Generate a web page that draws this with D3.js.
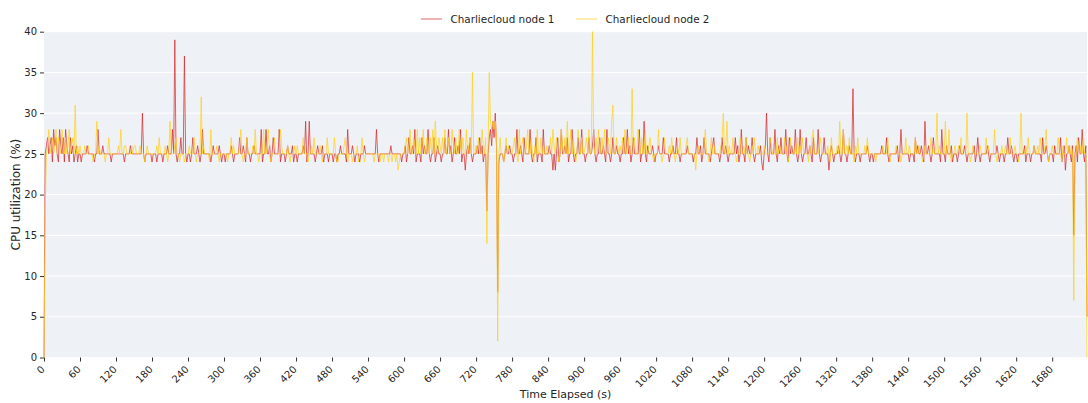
<!DOCTYPE html>
<html>
<head>
<meta charset="utf-8">
<script src="https://cdn.jsdelivr.net/npm/d3@7"></script>
<style>
  html, body { margin: 0; padding: 0; background: #ffffff; }
  svg { display: block; font-family: "DejaVu Sans", sans-serif; }
</style>
</head>
<body>
<svg id="chart" width="1088" height="403"></svg>
<script>
// ---- data (sampled every STEP seconds) ----
const STEP = 2; // seconds between samples
const seriesNames = ["Charliecloud node 1", "Charliecloud node 2"];
const xTickValues = [0,60,120,180,240,300,360,420,480,540,600,660,720,780,840,900,960,1020,1080,1140,1200,1260,1320,1380,1440,1500,1560,1620,1680];
const yTickValues = [0,5,10,15,20,25,30,35,40];

const node1 = [
  0,25,26,27,25,26,27,24,28,26,27,25,24,28,26,25,27,24,28,26,25,24,27,25,26,24,25,26,24,25,
  25,24,25,25,25,25,26,25,25,25,25,25,24,25,25,28,25,25,25,26,25,25,25,25,25,25,24,25,25,25,
  25,25,25,25,25,25,25,24,25,25,25,25,26,25,25,25,25,25,25,25,25,25,30,25,24,25,25,25,25,25,
  24,25,25,25,24,25,25,25,25,24,25,25,25,26,25,25,25,28,25,39,25,24,25,25,27,25,25,37,25,24,
  25,25,24,25,27,25,25,25,26,25,24,25,28,25,25,25,25,25,25,24,25,26,25,25,25,25,26,25,24,25,
  25,24,25,25,25,25,26,25,24,25,25,25,25,27,25,25,26,25,24,27,25,25,24,25,25,26,25,25,25,25,
  25,28,24,25,25,28,25,25,26,24,25,27,25,25,25,25,28,24,25,25,25,24,25,26,25,25,25,26,24,25,
  25,24,25,25,25,25,26,25,29,24,25,29,25,25,25,25,24,25,26,25,25,25,26,24,25,25,25,24,25,25,
  25,24,25,25,24,25,25,26,25,25,25,25,24,28,25,25,25,26,25,24,25,25,25,24,25,25,25,26,25,25,
  25,25,25,25,25,25,25,28,25,24,25,25,25,25,25,25,25,25,25,26,25,25,25,25,25,25,25,25,24,25,
  25,26,24,25,27,25,25,26,25,28,24,25,25,25,24,27,25,26,25,25,28,25,24,25,25,27,24,25,26,25,
  25,24,25,25,27,25,25,28,25,26,24,25,27,25,25,26,25,28,24,25,25,23,25,26,25,27,25,24,25,25,
  25,26,25,27,25,26,24,25,25,18,25,27,28,26,29,27,30,26,8,24,25,25,25,24,25,26,25,25,26,25,
  25,24,25,25,28,25,25,26,25,24,27,25,25,25,25,28,25,24,25,25,27,24,25,25,25,24,28,25,25,25,
  25,26,25,25,23,25,23,25,27,24,25,28,25,25,26,25,27,24,25,25,28,25,24,25,25,27,25,25,28,25,
  25,24,25,25,27,25,25,26,28,25,24,25,25,27,25,25,26,25,24,28,25,25,24,25,27,25,25,26,25,25,
  24,25,25,27,25,25,28,25,26,24,25,27,25,25,25,25,28,24,25,25,29,25,24,26,25,25,25,26,25,24,
  25,25,26,25,25,25,27,25,25,25,25,24,25,25,26,25,25,27,25,25,24,25,25,25,25,25,26,25,25,25,
  25,24,25,25,27,25,25,26,24,25,27,25,25,25,25,24,25,26,27,25,25,25,25,24,25,27,25,25,26,25,
  24,25,25,25,25,25,27,25,26,24,25,28,25,25,24,27,25,26,25,25,27,25,24,25,25,25,25,26,24,23,
  25,26,30,25,24,27,25,25,25,28,25,24,26,25,27,25,25,25,28,25,24,27,25,26,25,25,28,25,24,25,
  28,25,24,25,25,27,25,25,26,25,24,27,25,25,25,28,25,24,25,25,27,25,25,25,23,25,26,25,24,25,
  25,25,26,25,24,25,28,25,25,24,25,26,25,25,33,25,24,25,25,25,24,25,25,25,25,25,26,25,24,25,
  25,24,25,25,25,25,25,25,26,25,25,25,27,25,24,25,25,25,25,25,25,26,24,25,28,25,25,25,25,25,
  25,24,25,25,25,24,27,25,26,25,25,26,25,24,29,25,25,26,25,24,25,27,25,25,25,25,25,24,28,25,
  25,24,26,25,25,25,26,24,25,25,25,24,25,26,25,25,25,26,25,24,25,25,25,25,25,26,24,25,27,25,
  24,25,25,25,25,25,26,25,24,25,25,25,25,25,26,25,24,25,25,25,24,25,25,27,25,25,26,25,24,25,
  25,24,25,25,25,25,25,26,24,25,25,25,24,25,25,26,25,25,25,25,25,24,27,25,25,26,25,24,25,25,
  25,24,26,25,25,25,25,27,24,25,26,23,25,25,26,25,24,26,15,25,26,24,27,25,25,28,25,24,26,5
];

const node2 = [
  0,18,25,26,28,25,26,27,25,26,28,25,27,26,25,28,26,25,27,25,26,28,25,26,27,25,31,25,26,25,
  26,25,25,25,26,25,25,26,25,25,25,24,25,25,29,25,26,25,25,25,25,24,25,25,27,25,25,25,25,25,
  25,25,26,25,28,25,25,26,26,25,25,25,25,26,25,26,26,25,25,25,26,25,25,25,24,25,26,25,25,25,
  25,25,25,25,26,25,27,25,25,25,25,26,25,24,25,29,25,25,25,26,27,25,25,24,25,25,25,24,25,25,
  25,26,25,25,25,27,25,24,25,25,25,32,25,26,25,25,25,25,24,28,25,25,25,25,26,25,24,25,25,25,
  25,25,25,24,25,25,27,25,26,25,25,25,25,26,28,25,24,25,25,27,25,25,25,25,26,25,28,25,25,24,
  25,25,25,28,25,25,26,28,25,24,25,25,27,25,25,25,25,28,26,25,25,25,25,26,25,24,25,25,25,26,
  25,26,25,25,25,25,27,25,25,25,24,25,25,26,25,27,25,25,25,25,26,25,24,25,25,25,27,25,25,25,
  25,25,27,25,24,24,25,25,25,25,26,27,25,24,25,25,25,24,25,25,25,26,24,25,25,27,25,24,25,25,
  25,25,25,25,25,24,25,25,25,25,24,25,25,24,25,25,25,24,25,25,24,25,25,24,25,23,24,25,25,25,
  25,26,27,25,26,28,25,25,27,26,25,28,25,27,25,26,28,25,25,27,26,25,27,25,28,25,29,26,25,27,
  26,25,27,25,28,25,26,27,25,25,28,26,25,27,25,25,28,26,25,27,25,25,28,25,26,27,25,35,25,25,
  26,25,27,25,25,28,26,25,27,14,26,35,29,28,29,28,29,27,2,25,27,25,25,24,25,27,25,26,25,25,
  25,26,27,25,25,24,28,25,26,27,25,25,26,28,25,25,27,25,24,26,25,28,25,25,27,25,26,25,25,26,
  25,25,27,25,28,26,25,27,25,24,25,28,26,25,27,25,29,25,26,28,25,27,25,24,25,28,26,25,27,25,
  25,26,27,25,28,25,25,40,26,25,27,25,28,25,26,27,25,28,25,25,27,26,25,29,31,25,25,27,26,25,
  26,25,27,25,28,25,26,27,25,25,33,25,27,25,25,28,26,25,27,25,25,28,25,25,26,27,25,25,24,25,
  25,25,28,25,25,24,25,27,25,25,25,26,25,27,25,25,24,25,26,25,27,25,25,25,25,26,27,25,25,25,
  25,25,25,23,25,26,25,25,25,25,26,28,25,25,24,25,27,25,25,26,25,25,25,25,26,27,30,25,25,29,
  25,26,25,25,27,25,25,24,25,25,27,25,25,26,25,27,25,25,24,25,26,25,27,25,25,26,25,25,25,25,
  26,25,25,25,25,27,26,25,25,25,25,27,25,26,25,25,25,27,25,26,24,25,27,25,25,25,26,25,27,25,
  26,25,27,25,25,25,25,24,26,25,27,28,25,25,25,25,26,27,25,25,25,25,25,26,25,24,27,25,25,25,
  25,26,25,29,25,25,28,25,25,26,25,27,25,25,25,24,26,25,27,25,25,25,25,25,26,25,27,25,25,25,
  25,25,25,24,25,25,25,25,25,26,25,25,25,27,25,24,25,25,25,25,26,25,25,25,24,25,25,25,27,25,
  25,26,25,25,25,25,27,25,25,26,25,25,24,25,26,25,25,25,25,27,25,26,25,25,30,25,26,25,25,25,
  25,29,25,25,28,25,24,25,25,26,25,25,26,25,27,25,25,25,25,30,25,25,24,25,26,25,25,25,25,25,
  26,25,25,25,25,27,25,26,25,25,25,25,28,25,24,25,25,25,26,25,25,26,25,25,25,27,25,25,25,26,
  25,25,24,25,30,25,25,25,26,25,27,25,25,25,25,26,25,25,26,25,27,25,25,25,26,28,25,24,25,25,
  26,25,25,25,25,27,25,25,24,26,25,25,27,25,26,25,26,25,7,25,25,27,26,25,26,25,27,25,25,0
];

const seriesColors = ["#d62728", "#ffd11a"];

// ---- layout ----
const svg = d3.select("#chart");
const plot = { left: 44, right: 1087, top: 31.7, bottom: 357.5 };

const tMax = (node1.length - 1) * STEP;
const x = d3.scaleLinear().domain([0, tMax]).range([plot.left, plot.right]);
const y = d3.scaleLinear().domain([0, 40]).range([plot.bottom, plot.top]);

// background
svg.append("rect")
  .attr("x", plot.left).attr("y", plot.top)
  .attr("width", plot.right - plot.left).attr("height", plot.bottom - plot.top)
  .attr("fill", "#eef1f6");

// grid
svg.append("g").selectAll("line").data(yTickValues).join("line")
  .attr("x1", plot.left).attr("x2", plot.right)
  .attr("y1", d => y(d)).attr("y2", d => y(d))
  .attr("stroke", "#ffffff").attr("stroke-width", 1);

// axes
const yAxis = d3.axisLeft(y).tickValues(yTickValues).tickSize(4).tickPadding(3).tickFormat(d3.format("d"));
const gy = svg.append("g").attr("transform", `translate(${plot.left},0)`).call(yAxis);
gy.select(".domain").remove();
gy.selectAll(".tick line").attr("stroke", "#333");
gy.selectAll(".tick text").attr("fill", "#262626").style("font-size", "10px").style("font-family", "DejaVu Sans");

const xAxis = d3.axisBottom(x).tickValues(xTickValues).tickSize(4).tickFormat(d3.format("d"));
const gx = svg.append("g").attr("transform", `translate(0,${plot.bottom})`).call(xAxis);
gx.select(".domain").remove();
gx.selectAll(".tick line").attr("stroke", "#333");
gx.selectAll(".tick text")
  .attr("fill", "#262626")
  .style("font-size", "10px").style("font-family", "DejaVu Sans")
  .attr("text-anchor", "end")
  .attr("dy", null)
  .attr("y", null)
  .attr("transform", "translate(1,12.5) rotate(-45)");

// lines
const line = d3.line().x((d, i) => x(i * STEP)).y(d => y(d));
[node1, node2].forEach((s, k) => {
  svg.append("path")
    .datum(s)
    .attr("fill", "none")
    .attr("stroke", seriesColors[k])
    .attr("stroke-opacity", 0.72)
    .attr("stroke-width", 1)
    .attr("d", line);
});

// axis titles
svg.append("text")
  .attr("x", (plot.left + plot.right) / 2).attr("y", 398)
  .attr("text-anchor", "middle")
  .style("font-size", "11px").attr("fill", "#262626")
  .text("Time Elapsed (s)");

svg.append("text")
  .attr("transform", `translate(20,${(plot.top + plot.bottom) / 2}) rotate(-90)`)
  .attr("text-anchor", "middle")
  .style("font-size", "12px").attr("fill", "#262626")
  .text("CPU utilization (%)");

// legend
const legendItems = [
  { name: seriesNames[0], color: seriesColors[0], lx: 421, tx: 450.5 },
  { name: seriesNames[1], color: seriesColors[1], lx: 576, tx: 605.5 }
];
const lg = svg.append("g");
legendItems.forEach(it => {
  lg.append("line").attr("x1", it.lx).attr("x2", it.lx + 21).attr("y1", 19).attr("y2", 19)
    .attr("stroke", it.color).attr("stroke-opacity", 0.72).attr("stroke-width", 1);
  lg.append("text").attr("x", it.tx).attr("y", 23)
    .style("font-size", "10.4px").attr("fill", "#262626").text(it.name);
});
</script>
</body>
</html>
